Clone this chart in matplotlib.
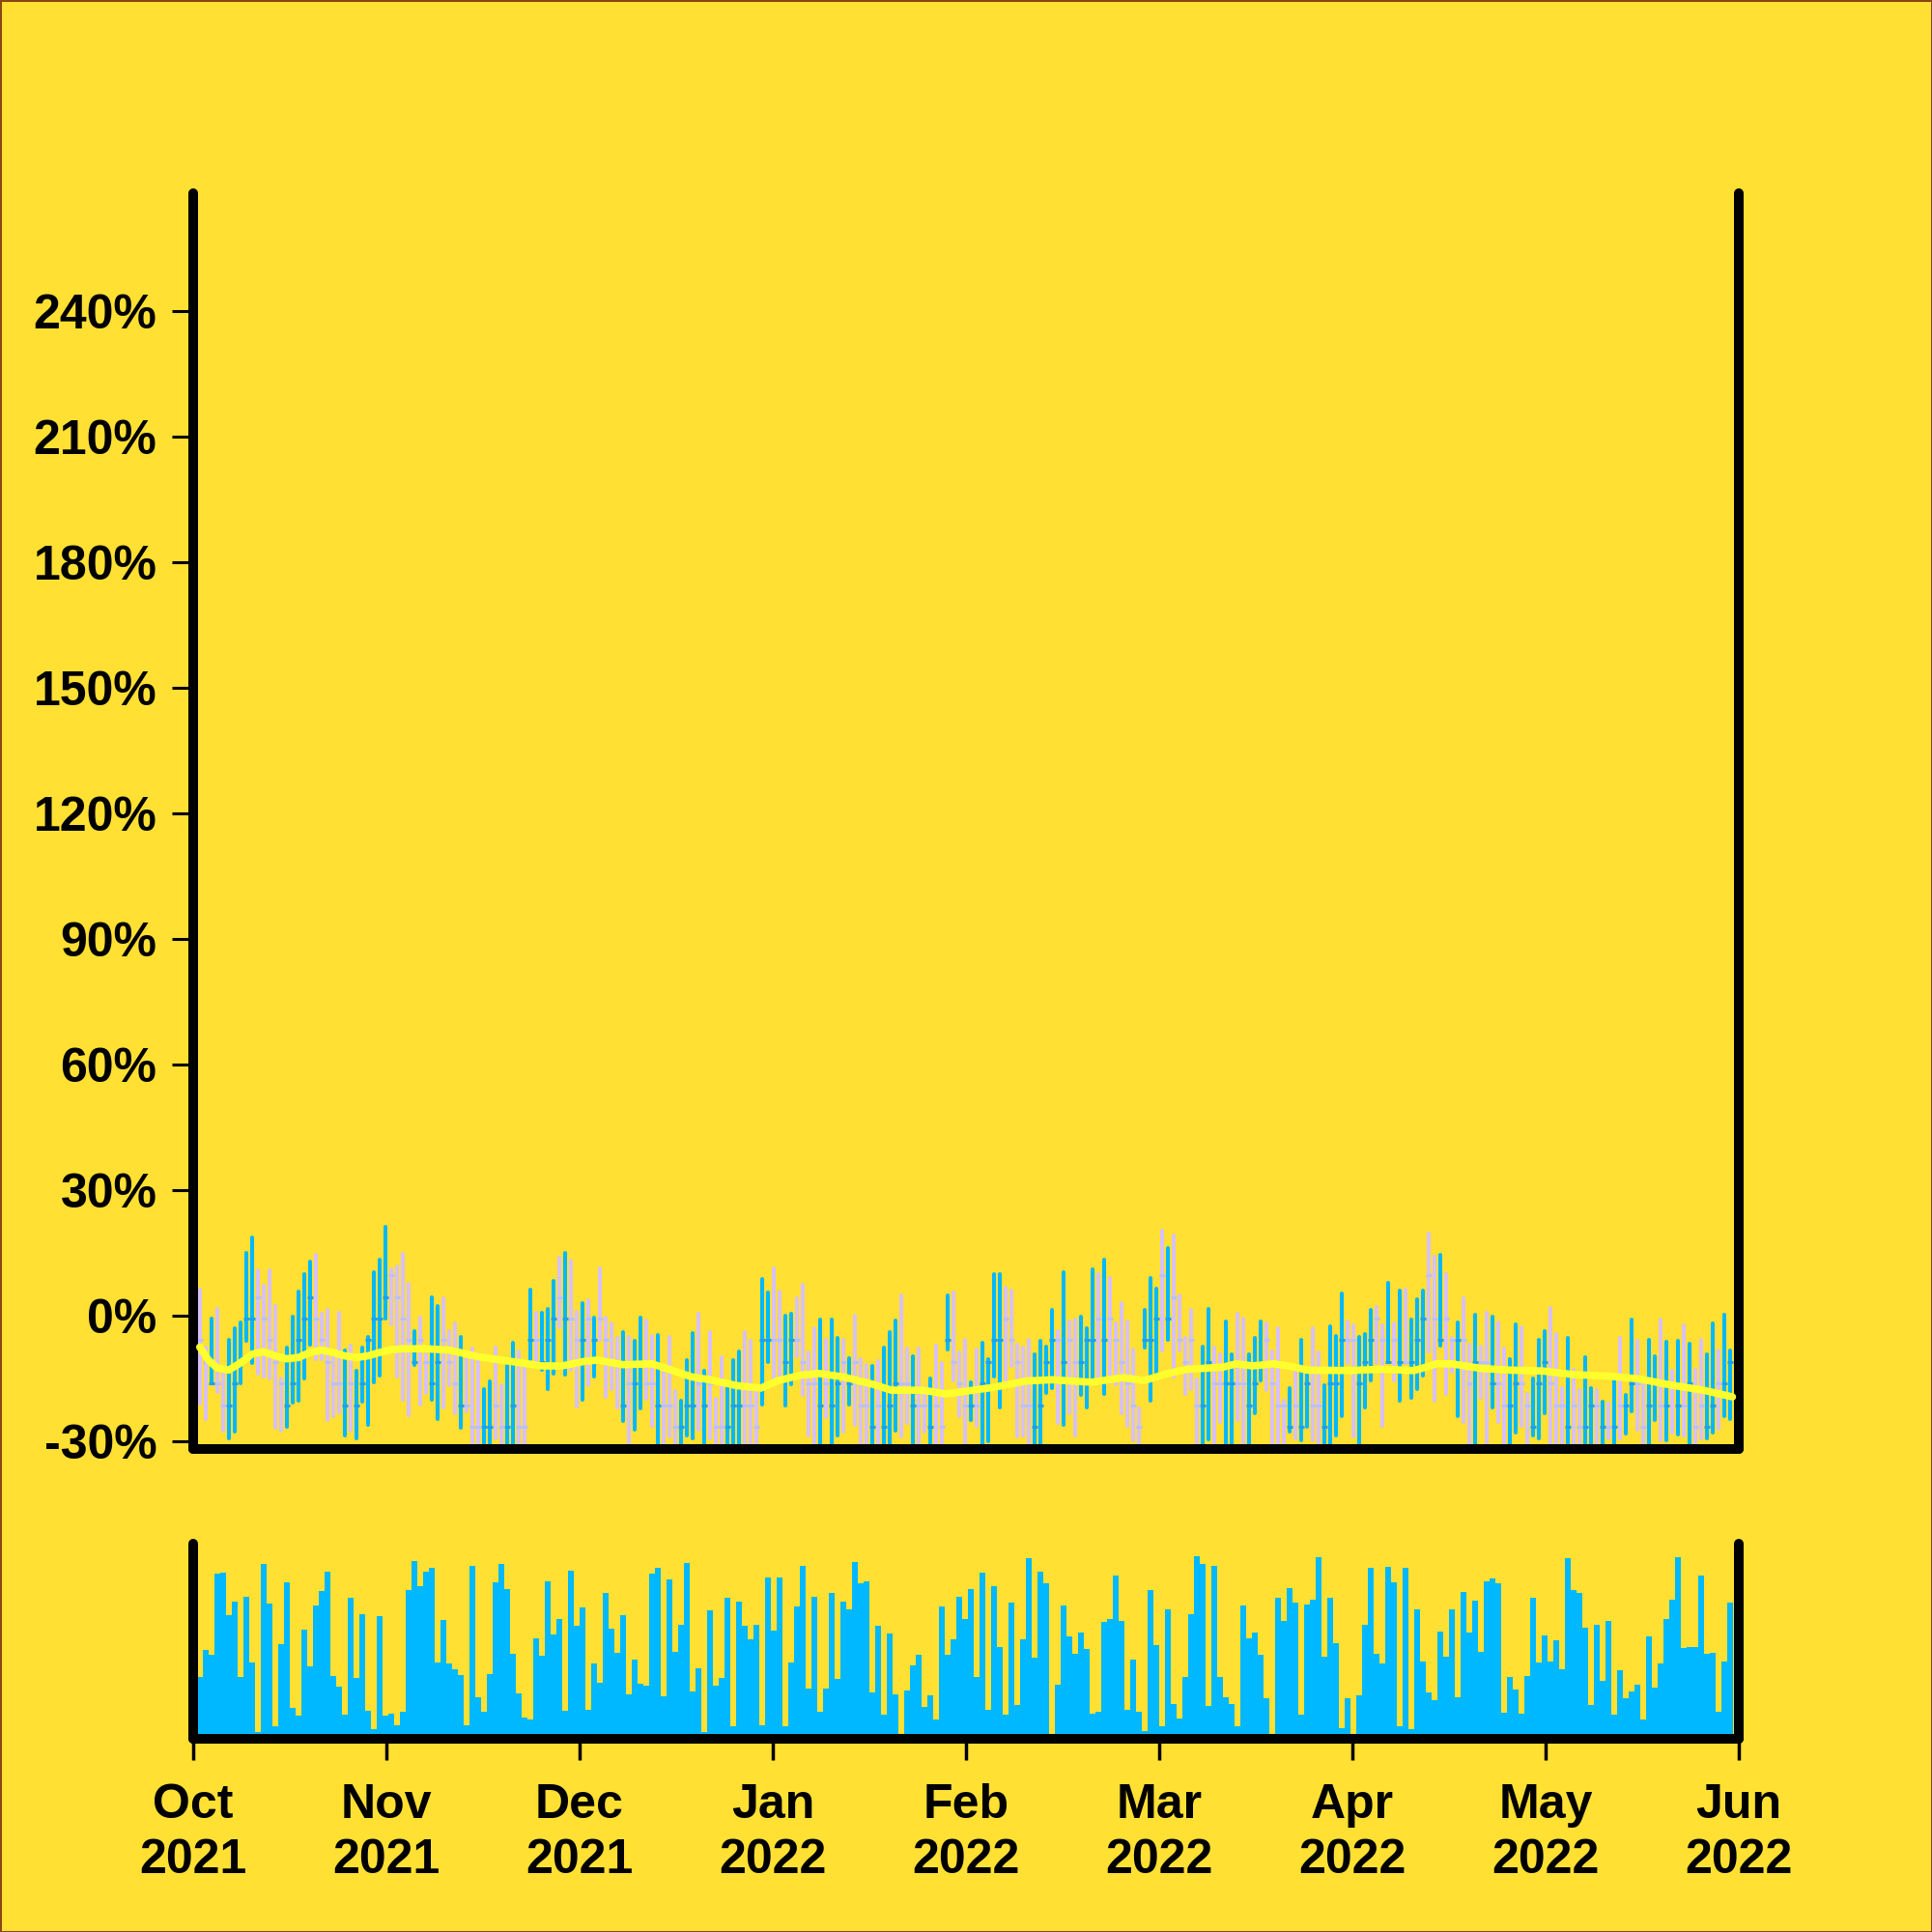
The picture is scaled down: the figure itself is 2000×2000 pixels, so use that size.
import numpy as np
import matplotlib
matplotlib.use("Agg")
import matplotlib.pyplot as plt

plt.rcParams['font.family'] = ['Liberation Sans', 'DejaVu Sans']
plt.rcParams['font.weight'] = 'bold'

BG = "#FFE033"
UP = "#00B8FF"
DOWN = "#D8C0F8"
UP_TICK = "#1AA0F0"
DOWN_TICK = "#B8C0FF"
MA_COLOR = "#FFFF2E"

month_labels = ["Oct\n2021", "Nov\n2021", "Dec\n2021", "Jan\n2022", "Feb\n2022",
                "Mar\n2022", "Apr\n2022", "May\n2022", "Jun\n2022"]
y_ticks = [-30, 0, 30, 60, 90, 120, 150, 180, 210, 240]

# U = close >= open (cyan), D = close < open (lavender)
trend = ("DDUDDUUUUU" "DDDDDUUUUU" "DDDDDUDUUU" "UUUDDDDUDD" "UUDDDUDDDU"
         "UDDUUDDUDU" "UUDUDDUDUD" "DDDUDUUDDU" "DDDUUUDUDD" "DUUUDDDUUD"
         "DUUDDDDUDU" "UDUDDDUDUU" "UDDUDDUDDU" "DDDUDUUUUD" "DDDDUUUUDU"
         "DDUUUDUDDD" "DDDUUUDUDD" "DDDUUDDUUD" "DUUUDDDDUD" "UUDDUUUUDD"
         "UUUDDUDUDU" "UUDDUDDUDD" "UDDUDDUUDD" "UUUDDDUDDU" "UDUDUDUUDD"
         "UUDUDUDUDD" "UUDUU")

high = [6.2, -7.5, -0.6, 1.7, -13.0, -5.7, -2.9, -1.5, 15.0, 18.7,
        10.8, 7.2, 10.8, 2.4, -14.9, -7.7, -0.2, 5.7, 9.9, 13.0,
        14.6, 0.5, 1.3, -8.8, 0.7, -8.3, -7.1, -13.1, -7.5, -5.0,
        10.4, 13.4, 21.3, 11.1, 11.8, 14.7, 7.6, -3.7, -0.4, -9.2,
        4.5, 2.4, 4.2, -3.7, -1.8, -5.0, -10.4, -7.9, -9.2, -17.6,
        -15.6, -7.5, -16.7, -12.0, -6.5, -8.6, -12.4, 6.3, 0.6, 0.7,
        1.7, 8.2, 13.9, 15.1, 13.2, 0.9, 3.1, 3.6, -0.4, 11.4,
        -0.4, -1.8, -5.4, -4.0, -5.0, -6.1, -0.4, -1.2, -4.8, -4.6,
        -12.1, -5.0, -18.0, -20.3, -10.7, -4.2, 0.5, -13.2, -4.0, -19.9,
        -10.0, -17.1, -10.7, -8.6, -4.0, -6.1, -18.0, 8.7, 5.5, 11.4,
        5.7, -0.1, 0.5, 4.2, 7.3, -8.8, -3.1, -1.0, -5.7, -1.0,
        -5.4, -5.7, -10.2, 0.0, -10.4, -11.7, -11.9, -10.9, -7.7, -3.9,
        -1.2, 4.8, -7.8, -9.8, -7.9, -17.1, -15.1, -7.1, -11.3, 4.9,
        5.5, -8.8, -5.7, -15.9, -8.1, -6.4, -10.4, 9.9, 9.9, 6.8,
        6.1, -6.9, -7.7, -5.7, -9.2, -6.1, -7.3, 1.5, -3.6, 10.4,
        -1.4, -1.0, -0.2, -3.1, 11.1, 9.9, 13.5, 9.0, -1.9, 3.1,
        -1.4, -8.1, -22.2, 1.3, 9.0, 6.5, 20.2, 16.2, 19.1, 4.8,
        -5.4, 1.3, -15.3, -7.3, 1.7, -7.5, -9.2, -1.4, -9.2, 0.5,
        -0.6, -9.2, -5.2, -1.4, -1.8, -8.5, -2.9, -20.3, -17.4, -13.4,
        -5.7, -13.8, -3.1, -8.8, -16.7, -2.5, -4.8, 5.3, -1.4, -2.3,
        -5.0, -4.3, 1.5, 2.0, -2.2, 7.8, -1.9, 6.1, 6.3, -1.0,
        4.0, 5.9, 19.6, 14.1, 14.6, 9.9, -5.2, -1.5, 4.2, -6.9,
        0.2, -7.3, 0.6, -0.2, -1.5, -7.9, -10.4, -2.1, -2.7, -18.6,
        -15.1, -5.8, -3.7, 1.9, -4.4, -17.4, -5.4, -13.0, -17.7, -9.9,
        -17.3, -17.7, -20.5, -21.0, -15.2, -5.4, -19.0, -1.0, -6.1, -16.1,
        -5.7, -9.6, -1.0, -6.3, -13.2, -6.1, -2.2, -6.8, -13.0, -5.8,
        -9.2, -1.9, -8.2, 0.2, -8.3]

low = [-21.0, -24.7, -16.2, -18.2, -27.5, -29.3, -27.8, -16.1, -6.0, -11.3,
       -13.8, -14.6, -15.1, -26.8, -27.5, -26.6, -20.8, -20.3, -15.1, -6.9,
       -10.4, -10.4, -24.9, -24.0, -23.0, -28.7, -27.4, -29.2, -20.5, -26.0,
       -15.9, -14.2, -0.6, -2.1, -14.6, -20.1, -23.7, -11.7, -21.2, -18.4,
       -20.1, -24.7, -22.0, -16.7, -23.2, -26.8, -22.9, -33, -33, -34,
       -33, -29.3, -33, -34, -33, -33, -34, -10.4, -11.3, -13.0,
       -17.6, -13.8, -2.7, -14.1, -13.0, -21.8, -20.1, -16.6, -14.6, -5.8,
       -19.5, -17.6, -22.0, -25.1, -33, -27.2, -22.2, -19.9, -26.4, -33,
       -33, -28.9, -33, -33, -28.7, -29.3, -27.2, -33, -29.3, -33,
       -33, -33, -33, -33, -33, -33, -33, -21.2, -11.0, -15.5,
       -15.9, -21.5, -16.5, -9.6, -19.0, -28.7, -33, -33, -24.3, -33,
       -28.7, -27.6, -21.2, -26.0, -33, -33, -33, -33, -33, -33,
       -27.5, -28.9, -25.7, -33, -33, -27.6, -33, -33, -33, -8.1,
       -15.5, -23.9, -33, -24.9, -26.2, -33, -29.9, -14.6, -21.9, -16.2,
       -12.0, -28.9, -28.7, -33, -33, -33, -18.4, -17.2, -25.7, -26.1,
       -23.2, -28.7, -18.9, -21.9, -15.5, -15.5, -18.7, -15.9, -16.3, -23.4,
       -26.2, -29.7, -33, -7.5, -20.3, -14.4, -8.3, -5.8, -14.6, -8.3,
       -18.8, -17.6, -33, -33, -29.6, -33, -25.5, -33, -33, -24.9,
       -33, -33, -23.2, -15.5, -17.8, -33, -33, -33, -27.6, -29.3,
       -29.7, -26.6, -29.7, -33, -33, -33, -28.7, -24.1, -11.3, -28.9,
       -33, -21.9, -15.5, -11.3, -26.2, -11.1, -15.5, -20.3, -11.3, -19.7,
       -17.6, -14.4, -8.5, -20.3, -7.1, -18.8, -13.5, -24.1, -25.3, -33,
       -33, -19.7, -33, -22.0, -25.3, -33, -33, -27.9, -26.4, -33,
       -28.7, -29.2, -23.4, -33, -33, -33, -33, -33, -33, -33,
       -33, -33, -33, -29.3, -33, -29.2, -28.1, -22.9, -27.2, -33,
       -33, -25.0, -29.7, -29.7, -27.9, -28.5, -28.7, -33, -33, -29.2,
       -29.3, -27.9, -27.0, -23.9, -24.7]

# open and close tick level (open tick left, close tick right)
tick_level = [-5.8, -11.0, -16.2, -16.2, -21.4, -21.4, -16.2, -11.0, -0.6, -0.6,
              4.5, -0.6, -5.8, -11.0, -16.2, -21.4, -16.2, -5.8, -0.6, 4.5,
              -0.6, -5.8, -11.0, -16.2, -16.2, -21.4, -16.2, -21.4, -16.2, -5.8,
              -0.6, -0.6, 4.5, 9.7, 4.5, -0.6, -5.8, -11.0, -5.8, -11.0,
              -16.2, -11.0, -5.8, -11.0, -16.2, -21.4, -21.4, -26.6, -26.6, -26.6,
              -26.6, -21.4, -26.6, -26.6, -21.4, -26.6, -26.6, -5.8, -5.8, -11.0,
              -5.8, -0.6, 4.5, -0.6, -0.6, -5.8, -5.8, -0.6, -5.8, -0.6,
              -5.8, -11.0, -11.0, -21.4, -16.2, -16.2, -11.0, -16.2, -16.2, -21.4,
              -21.4, -21.4, -26.6, -26.6, -21.4, -21.4, -16.2, -21.4, -16.2, -26.6,
              -26.6, -26.6, -21.4, -21.4, -21.4, -21.4, -26.6, -5.8, -5.8, -5.8,
              -5.8, -11.0, -5.8, -5.8, -11.0, -16.2, -16.2, -21.4, -16.2, -21.4,
              -16.2, -11.0, -16.2, -11.0, -21.4, -21.4, -26.6, -21.4, -26.6, -21.4,
              -16.2, -16.2, -16.2, -21.4, -21.4, -21.4, -26.6, -21.4, -26.6, -5.8,
              -11.0, -16.2, -21.4, -21.4, -21.4, -16.2, -11.0, -5.8, -5.8, -0.6,
              -5.8, -11.0, -21.4, -21.4, -26.6, -21.4, -11.0, -5.8, -5.8, -11.0,
              -5.8, -11.0, -11.0, -5.8, -5.8, -0.6, -5.8, -0.6, -5.8, -11.0,
              -16.2, -21.4, -26.6, -5.8, -5.8, -0.6, 9.7, -0.6, 4.5, -5.8,
              -11.0, -5.8, -21.4, -21.4, -11.0, -16.2, -16.2, -16.2, -16.2, -16.2,
              -16.2, -21.4, -16.2, -11.0, -5.8, -16.2, -21.4, -21.4, -26.6, -21.4,
              -26.6, -16.2, -21.4, -21.4, -26.6, -16.2, -16.2, -5.8, -5.8, -5.8,
              -16.2, -11.0, -5.8, -0.6, -5.8, -11.0, -5.8, -11.0, -11.0, -11.0,
              -5.8, -0.6, 9.7, -0.6, -5.8, -0.6, -5.8, -5.8, -5.8, -16.2,
              -11.0, -11.0, -11.0, -16.2, -16.2, -21.4, -21.4, -16.2, -16.2, -21.4,
              -26.6, -16.2, -11.0, -16.2, -21.4, -21.4, -26.6, -21.4, -26.6, -26.6,
              -21.4, -21.4, -26.6, -26.6, -26.6, -21.4, -21.4, -16.2, -16.2, -26.6,
              -21.4, -16.2, -21.4, -21.4, -16.2, -21.4, -21.4, -16.2, -26.6, -21.4,
              -26.6, -21.4, -16.2, -16.2, -11.0]

volume = [18.0, 25.7, 24.2, 47.8, 48.0, 35.8, 39.7, 17.8, 41.2, 22.0,
          2.0, 50.7, 39.2, 3.5, 27.3, 45.2, 9.0, 6.8, 31.7, 21.0,
          38.5, 42.7, 48.5, 18.3, 15.0, 7.0, 40.7, 17.7, 36.0, 8.2,
          2.8, 35.5, 6.7, 7.2, 3.8, 7.8, 43.0, 51.5, 44.3, 48.5,
          49.5, 22.2, 34.5, 21.7, 20.0, 18.5, 3.8, 50.2, 12.0, 7.8,
          18.8, 45.2, 50.7, 43.3, 24.5, 13.2, 6.2, 5.5, 29.0, 24.0,
          45.7, 30.3, 34.7, 8.0, 48.8, 32.7, 38.0, 8.3, 21.7, 16.2,
          42.3, 32.0, 24.8, 35.7, 12.8, 23.0, 16.0, 15.5, 47.8, 49.5,
          12.2, 46.2, 25.3, 33.0, 51.0, 13.7, 20.5, 2.0, 37.3, 15.5,
          17.5, 40.7, 3.7, 39.7, 32.7, 28.8, 33.0, 4.0, 46.8, 31.3,
          46.7, 3.7, 22.0, 38.2, 50.0, 14.5, 41.2, 7.7, 14.5, 42.2,
          17.3, 39.7, 37.5, 51.3, 45.0, 45.7, 13.5, 32.8, 7.0, 30.5,
          13.0, 0.3, 14.0, 21.3, 24.3, 9.2, 12.7, 5.7, 38.3, 24.3,
          28.7, 41.0, 34.8, 43.3, 17.8, 48.0, 8.3, 44.2, 26.5, 7.0,
          39.5, 9.8, 28.8, 52.2, 23.5, 48.3, 45.0, 0.2, 15.7, 38.5,
          29.7, 24.5, 30.8, 26.0, 7.3, 7.8, 33.8, 34.8, 47.3, 34.0,
          8.3, 23.0, 7.7, 2.3, 43.0, 27.2, 3.5, 37.5, 10.0, 6.0,
          17.8, 36.2, 53.0, 50.7, 9.5, 50.0, 18.0, 12.0, 10.0, 3.5,
          38.5, 29.0, 30.7, 24.3, 11.8, 0.2, 40.7, 34.0, 43.7, 39.5,
          7.0, 39.0, 40.2, 52.5, 23.7, 40.7, 27.7, 3.2, 11.8, 0.2,
          12.5, 33.0, 49.5, 24.7, 21.7, 49.7, 45.3, 3.5, 49.5, 2.7,
          37.5, 22.5, 13.5, 11.2, 31.0, 23.8, 37.5, 12.0, 42.5, 30.8,
          40.0, 25.2, 45.5, 46.3, 45.0, 7.5, 17.8, 14.3, 7.3, 18.3,
          40.7, 22.2, 30.0, 22.5, 28.5, 20.0, 52.2, 43.2, 42.2, 32.3,
          9.8, 33.0, 16.7, 34.2, 7.0, 19.8, 11.8, 13.7, 15.8, 5.5,
          29.7, 14.7, 21.7, 34.7, 40.3, 52.5, 26.2, 26.5, 26.5, 47.2,
          24.7, 25.0, 7.7, 22.5, 39.3]

# moving average: (bar index, value %)
ma_pos = [0, 1.5, 3, 5, 7, 9, 11, 13, 15, 17, 19, 21, 23, 25, 27, 29, 31, 33, 35, 39,
          43, 48, 53.6, 59, 62.5, 66.4, 68.6, 73, 78, 81.4, 84.8, 88, 92.6, 96.8, 99.8,
          103.7, 106.8, 110.9, 115.9, 119.3, 124.8, 128.7, 132.4, 137, 142.6, 147,
          153.8, 159.3, 162.9, 167, 170.4, 176.5, 178.8, 181.6, 185.2, 188.3, 191,
          198.3, 203.8, 209.4, 211, 213.3, 216, 221, 226, 231.6, 237.2, 242.8, 248.3,
          253.9, 259.4, 264.4]
ma_val = [-7.5, -10.6, -12.5, -13.0, -11.3, -9.2, -8.6, -9.6, -10.3, -10.0, -8.8, -8.2,
          -8.8, -9.6, -10.0, -9.6, -8.8, -8.1, -7.9, -7.9, -8.2, -9.8, -10.9, -12.0,
          -12.0, -10.9, -10.6, -11.7, -11.5, -13.0, -14.6, -15.3, -16.7, -17.3, -15.5,
          -14.2, -13.8, -14.6, -16.3, -17.8, -17.8, -18.7, -18.0, -17.1, -15.6, -15.3,
          -15.9, -14.8, -15.5, -13.8, -12.8, -12.3, -11.5, -12.0, -11.5, -12.1, -13.0,
          -13.1, -12.8, -13.1, -12.5, -11.5, -11.5, -12.6, -13.0, -13.2, -14.1, -14.4,
          -15.1, -16.6, -17.8, -19.4]

n = len(high)
x = np.arange(n)
is_up = np.array([c == "U" for c in trend])
colors = np.where(is_up, UP, DOWN)
tick_colors = np.where(is_up, UP_TICK, DOWN_TICK)
xlim = (-1.13, n + 0.5)

fig = plt.figure(figsize=(20, 20), dpi=100, facecolor=BG)
fig.patch.set_edgecolor("#8B4513")
fig.patch.set_linewidth(2)

ax = fig.add_axes([0.1, 0.25, 0.8, 0.65])
axv = fig.add_axes([0.1, 0.1, 0.8, 0.101])

for a in (ax, axv):
    a.set_facecolor(BG)
    a.spines['top'].set_visible(False)
    for s in ('left', 'right', 'bottom'):
        a.spines[s].set_linewidth(7.2)
        a.spines[s].set_color('black')
        a.spines[s].set_capstyle('round')
    a.set_xlim(*xlim)

# OHLC bars
vl = ax.vlines(x, low, high, colors=colors, linewidth=2.9, zorder=2)
vl.set_capstyle('round')
ax.hlines(tick_level, x - 0.5, x, colors=tick_colors, linewidth=2.2, zorder=2.2)
ax.hlines(tick_level, x, x + 0.5, colors=tick_colors, linewidth=2.2, zorder=2.2)

ax.plot(ma_pos, ma_val, color=MA_COLOR, linewidth=5.5, solid_capstyle='round',
        solid_joinstyle='round', zorder=3)

ax.set_ylim(-31.85, 268.2)
ax.set_yticks(y_ticks)
ax.set_yticklabels([f"{t}%" for t in y_ticks])
ax.tick_params(axis='y', which='both', left=True, right=False, length=16, width=2.2,
               pad=11, labelsize=36, color='black')
ax.tick_params(axis='x', which='both', bottom=False, labelbottom=False)

# volume
axv.bar(x, volume, width=1.0, color=UP, linewidth=0, zorder=1)
axv.set_ylim(0, 56.5)
axv.set_yticks([])
axv.set_xticks(np.linspace(xlim[0], xlim[1], len(month_labels)))
axv.set_xticklabels(month_labels)
axv.tick_params(axis='x', length=16, width=2.5, pad=17, labelsize=36, color='black')
for lab in axv.get_xticklabels():
    lab.set_fontweight('bold')
    lab.set_linespacing(1.32)
for lab in ax.get_yticklabels():
    lab.set_fontweight('bold')

fig.savefig("out.png", dpi=100, facecolor=fig.get_facecolor(),
            edgecolor=fig.get_edgecolor())
